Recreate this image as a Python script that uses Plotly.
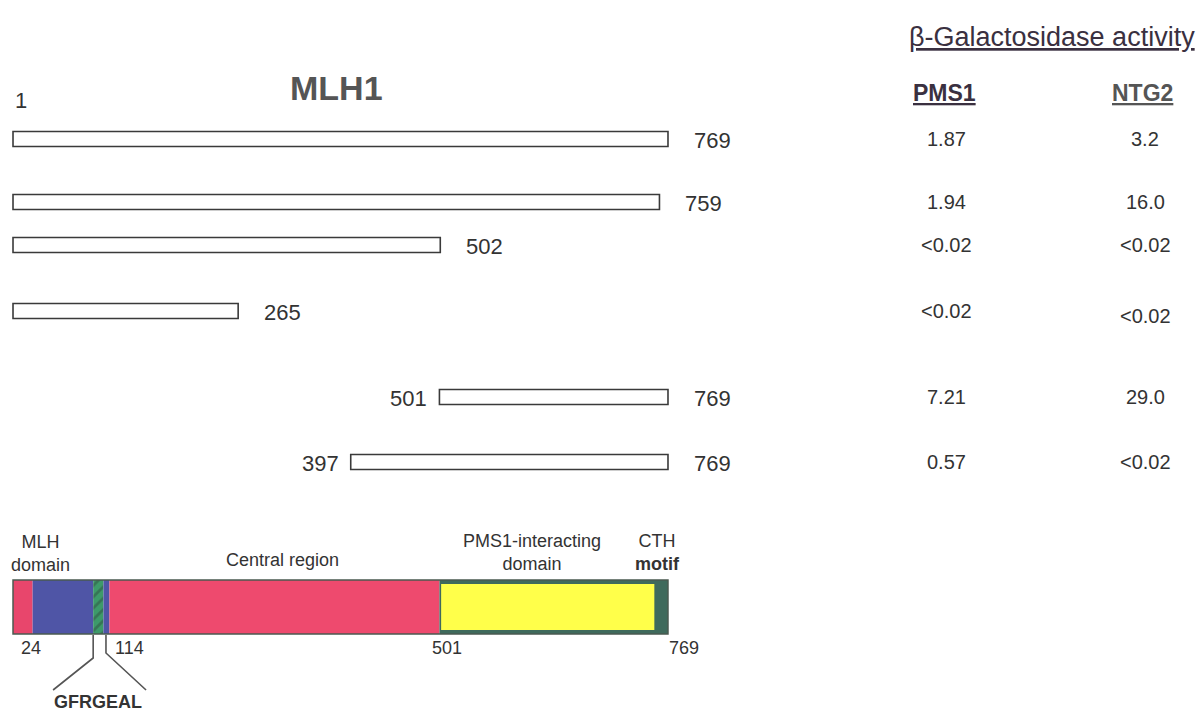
import plotly.graph_objects as go

# ---------------- data ----------------
construct_start = [1, 1, 1, 1, 501, 397]
construct_end = [769, 759, 502, 265, 769, 769]
pms1_activity = ["1.87", "1.94", "<0.02", "<0.02", "7.21", "0.57"]
ntg2_activity = ["3.2", "16.0", "<0.02", "<0.02", "29.0", "<0.02"]

domain_names = ["N-term", "MLH domain", "GFRGEAL", "MLH domain b", "Central region",
                "CTH frame", "PMS1-interacting domain"]
domain_start = [1, 24, 95, 107, 114, 501, 503]
domain_end = [24, 95, 107, 114, 501, 769, 753]
domain_ticks = [24, 114, 501, 769]

# ---------------- layout constants ----------------
row_y = [139, 202, 245, 311, 397, 462]
bar_h = 15
dom_y = 607
FONT = "Liberation Sans Narrow, Liberation Sans, Arial, sans-serif"
TXT = "#333333"

fig = go.Figure()

# construct bars
fig.add_trace(go.Bar(
    orientation="h",
    base=construct_start,
    x=[e - s for s, e in zip(construct_start, construct_end)],
    y=row_y,
    width=bar_h,
    marker=dict(color="white", line=dict(color="#3a3a3a", width=1.6)),
    hoverinfo="skip",
))

# domain bar segments
dom_colors = ["#e8466c", "#4f55a6", "#3d9a6a", "#4f55a6", "#ee4a6e", "#3f6a5c", "#ffff4a"]
dom_widths = [54, 54, 54, 54, 54, 54, 46]
for name, s, e, c, w in zip(domain_names, domain_start, domain_end, dom_colors, dom_widths):
    marker = dict(color=c, line=dict(width=0))
    if name == "GFRGEAL":
        marker["pattern"] = dict(shape="/", fgcolor="#2f4f3f", bgcolor=c, size=8, solidity=0.35)
    fig.add_trace(go.Bar(orientation="h", base=[s], x=[e - s], y=[dom_y], width=w,
                         marker=marker, hoverinfo="skip"))

# outline of domain bar
fig.add_trace(go.Bar(orientation="h", base=[domain_start[0]], x=[domain_end[-2] - domain_start[0]],
                     y=[dom_y], width=54,
                     marker=dict(color="rgba(0,0,0,0)", line=dict(color="#4a5a50", width=1.5)),
                     hoverinfo="skip"))

# GFRGEAL bracket lines
gs, ge = domain_start[2], domain_end[2]
fig.add_trace(go.Scatter(x=[gs, gs, gs - 47], y=[635, 658, 690], mode="lines",
                         line=dict(color="#555555", width=1.6), hoverinfo="skip"))
fig.add_trace(go.Scatter(x=[ge + 3, ge + 3, ge + 50], y=[635, 653, 690], mode="lines",
                         line=dict(color="#555555", width=1.6), hoverinfo="skip"))

ann = []
LF = dict(size=22, color=TXT, family=FONT)
# end labels
for s, e, y in zip(construct_start, construct_end, row_y):
    ann.append(dict(x=e, y=y + 1, xref="x", yref="y", text=str(e), showarrow=False,
                    xanchor="left", xshift=24, font=LF))
    if s != 1:
        ann.append(dict(x=s, y=y + 1, xref="x", yref="y", text=str(s), showarrow=False,
                        xanchor="right", xshift=-10, font=LF))
ann.append(dict(x=construct_start[0], y=100, xref="x", yref="y", text="1", showarrow=False,
                xanchor="left", font=LF))
ann.append(dict(x=380, y=88, xref="x", yref="y", text="<b>MLH1</b>", showarrow=False,
                xanchor="center", font=dict(size=34, color="#555555", family=FONT)))

# activity table (x in pixels, converted to paper below)
ann.append(dict(x=1052, y=37, xref="paper", yref="y", text="<u>β-Galactosidase activity</u>",
                showarrow=False, font=dict(size=27, color="#3a3040", family=FONT)))
ann.append(dict(x=945, y=93, xref="paper", yref="y", text="<u><b>PMS1</b></u>", showarrow=False,
                font=dict(size=23, color="#3a3040", family=FONT)))
ann.append(dict(x=1142, y=93, xref="paper", yref="y", text="<u><b>NTG2</b></u>", showarrow=False,
                font=dict(size=23, color="#555555", family=FONT)))
VF = dict(size=20, color=TXT, family=FONT)
for p, n, y in zip(pms1_activity, ntg2_activity, row_y):
    ann.append(dict(x=946, y=y, xref="paper", yref="y", text=p, showarrow=False, font=VF))
    ann.append(dict(x=1145, y=y + (5 if y == row_y[3] else 0), xref="paper", yref="y", text=n,
                    showarrow=False, font=VF))

# domain labels
DF = dict(size=18, color=TXT, family=FONT)
ann.append(dict(x=(domain_start[1] + domain_end[1]) / 2, y=553, xref="x", yref="y",
                text="MLH<br>domain", showarrow=False, font=DF, xshift=-22))
ann.append(dict(x=(domain_start[4] + domain_end[4]) / 2, y=560, xref="x", yref="y",
                text="Central region", showarrow=False, font=DF, xshift=8))
ann.append(dict(x=(domain_start[6] + domain_end[6]) / 2, y=552, xref="x", yref="y",
                text="PMS1-interacting<br>domain", showarrow=False, font=DF, xshift=-16))
ann.append(dict(x=domain_end[5] - 12, y=552, xref="x", yref="y",
                text="CTH<br><b>motif</b>", showarrow=False, font=DF))
ann.append(dict(x=(gs + ge) / 2, y=702, xref="x", yref="y", text="<b>GFRGEAL</b>",
                showarrow=False, font=dict(size=18, color=TXT, family=FONT)))
for t in domain_ticks:
    shift = {24: -2, 114: 20, 501: 8, 769: 16}[t]
    ann.append(dict(x=t, y=648, xref="x", yref="y", text=str(t), showarrow=False,
                    xshift=shift, font=DF))

for a in ann:
    a.setdefault("xanchor", "center")
    if a["xref"] == "paper":
        a["x"] = a["x"] / 1204

fig.update_layout(
    width=1204, height=719,
    margin=dict(l=0, r=0, t=0, b=0),
    paper_bgcolor="white", plot_bgcolor="white",
    showlegend=False, barmode="overlay",
    xaxis=dict(range=[-14.25, 1397.5], visible=False, fixedrange=True),
    yaxis=dict(range=[719, 0], visible=False, fixedrange=True),
    annotations=ann,
)

fig.write_html("out.html", config={"displayModeBar": False},
               post_script="document.body.style.margin='0';document.body.style.overflow='hidden';")
